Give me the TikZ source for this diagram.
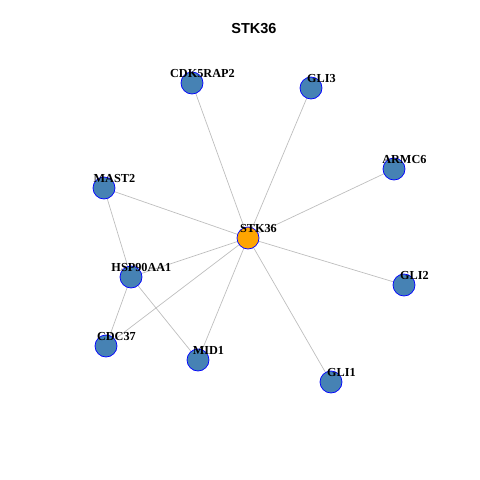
\documentclass[tikz,border=0pt]{standalone}
\usepackage{fontspec}
\setmainfont{Liberation Serif}
\setsansfont{Liberation Sans}
\usetikzlibrary{backgrounds}
\definecolor{NodeClr}{HTML}{4682B4}
\definecolor{HubClr}{HTML}{FFA500}
\definecolor{EdgeClr}{HTML}{BEBEBE}

\begin{document}
\begin{tikzpicture}[x=0.025cm,y=-0.025cm,
  gene/.style={circle,draw=blue,fill=NodeClr,line width=0.5pt,minimum size=0.55cm,inner sep=0pt},
  hub/.style={gene,fill=HubClr},
  lbl/.style={font=\fontsize{8.7}{9}\selectfont\bfseries,inner sep=0pt,xshift=0.26cm,yshift=0.23cm},
  edge/.style={draw=EdgeClr,line width=0.5pt}]
\useasboundingbox (0,0) rectangle (480,480);

\node[font=\sffamily\bfseries\fontsize{10.3}{12}\selectfont] (title) at (254,29) {STK36};

\node[hub]  (STK36)    at (248,238) {};
\node[gene] (CDK5RAP2) at (192,83)  {};
\node[gene] (GLI3)     at (311,88)  {};
\node[gene] (ARMC6)    at (394,169) {};
\node[gene] (MAST2)    at (104,188) {};
\node[gene] (HSP90AA1) at (131,277) {};
\node[gene] (GLI2)     at (404,285) {};
\node[gene] (CDC37)    at (106,346) {};
\node[gene] (MID1)     at (198,360) {};
\node[gene] (GLI1)     at (331,382) {};

\begin{scope}[on background layer]
\foreach \g in {CDK5RAP2,GLI3,ARMC6,GLI2,GLI1,MID1,CDC37,HSP90AA1,MAST2}
  \draw[edge] (STK36.center) -- (\g.center);
\draw[edge] (MAST2.center) -- (HSP90AA1.center);
\draw[edge] (HSP90AA1.center) -- (CDC37.center);
\draw[edge] (HSP90AA1.center) -- (MID1.center);
\end{scope}

\foreach \g in {STK36,CDK5RAP2,GLI3,ARMC6,MAST2,HSP90AA1,GLI2,CDC37,MID1,GLI1}
  \node[lbl] (\g-lbl) at (\g) {\g};

\end{tikzpicture}
\end{document}
